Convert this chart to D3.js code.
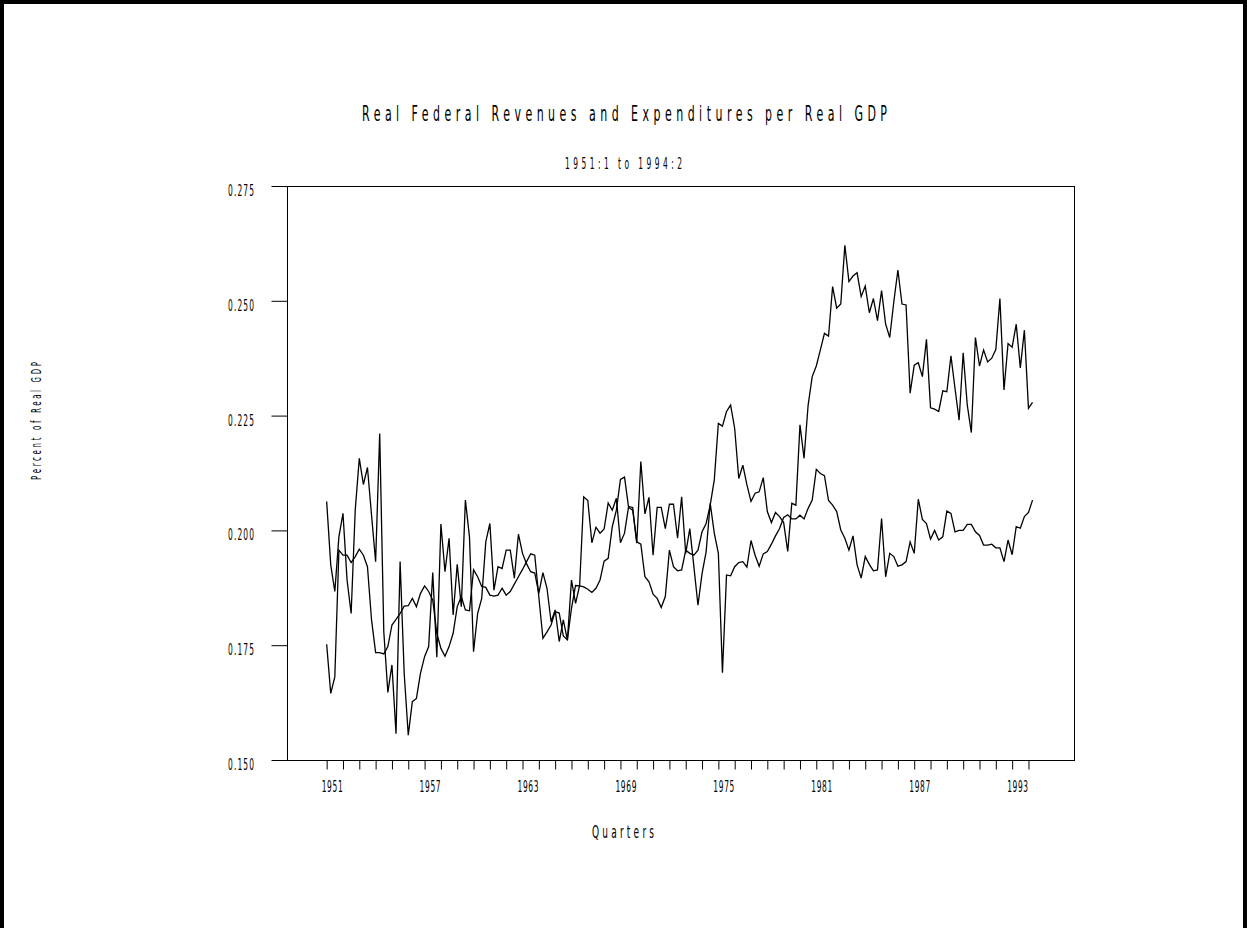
<!DOCTYPE html>
<html>
<head>
<meta charset="utf-8">
<script src="https://cdn.jsdelivr.net/npm/d3@7"></script>
<style>
  html, body { margin: 0; padding: 0; background: #fff; }
  svg text { font-family: "DejaVu Sans", sans-serif; fill: #000; }
</style>
</head>
<body>
<div id="chart"></div>
<script>
// quarterly series, 1951:1 .. 1994:2
const firstYear = 1951;
const revenues = [
  0.2063,0.1925,0.1867,0.1986,0.2037,0.1892,0.1819,0.2044,0.2157,0.2100,0.2137,0.2033,0.1932,0.2211,0.1780,0.1647,0.1707,0.1557,0.1932,0.1689,
  0.1554,0.1627,0.1634,0.1689,0.1725,0.1747,0.1908,0.1724,0.2014,0.1910,0.1983,0.1816,0.1926,0.1834,0.2066,0.1986,0.1736,0.1819,0.1852,0.1975,
  0.2015,0.1870,0.1921,0.1917,0.1957,0.1957,0.1896,0.1992,0.1950,0.1927,0.1910,0.1907,0.1863,0.1908,0.1874,0.1801,0.1827,0.1758,0.1805,0.1761,
  0.1892,0.1841,0.1880,0.2073,0.2065,0.1973,0.2007,0.1994,0.2003,0.2060,0.2044,0.2070,0.1973,0.1994,0.2052,0.2050,0.1972,0.2150,0.2036,0.2072,
  0.1946,0.2050,0.2050,0.2004,0.2057,0.2057,0.1983,0.2073,0.1950,0.2004,0.1921,0.1837,0.1906,0.1953,0.2059,0.1994,0.1950,0.1690,0.1903,0.1901,
  0.1921,0.1930,0.1932,0.1920,0.1978,0.1946,0.1922,0.1949,0.1954,0.1970,0.1988,0.2004,0.2028,0.2034,0.2025,0.2025,0.2033,0.2025,0.2048,0.2066,
  0.2133,0.2124,0.2119,0.2065,0.2055,0.2041,0.2001,0.1983,0.1957,0.1988,0.1925,0.1896,0.1943,0.1926,0.1912,0.1914,0.2026,0.1899,0.1950,0.1943,
  0.1922,0.1925,0.1932,0.1975,0.1950,0.2068,0.2024,0.2015,0.1981,0.2000,0.1979,0.1986,0.2042,0.2037,0.1997,0.2000,0.2000,0.2013,0.2013,0.1997,
  0.1989,0.1968,0.1968,0.1970,0.1962,0.1962,0.1932,0.1979,0.1947,0.2008,0.2005,0.2030,0.2039,0.2066
];
const expenditures = [
  0.1752,0.1645,0.1681,0.1957,0.1946,0.1946,0.1930,0.1943,0.1959,0.1946,0.1921,0.1805,0.1734,0.1734,0.1731,0.1747,0.1794,0.1806,0.1819,0.1835,
  0.1836,0.1852,0.1834,0.1863,0.1879,0.1867,0.1848,0.1776,0.1743,0.1726,0.1747,0.1776,0.1834,0.1856,0.1827,0.1825,0.1914,0.1899,0.1878,0.1876,
  0.1859,0.1857,0.1859,0.1874,0.1859,0.1867,0.1883,0.1899,0.1915,0.1932,0.1949,0.1946,0.1855,0.1765,0.1779,0.1794,0.1823,0.1820,0.1770,0.1762,
  0.1830,0.1880,0.1879,0.1877,0.1872,0.1865,0.1874,0.1892,0.1933,0.1939,0.2008,0.2044,0.2111,0.2116,0.2050,0.2044,0.1975,0.1970,0.1899,0.1888,
  0.1861,0.1852,0.1832,0.1856,0.1957,0.1921,0.1912,0.1914,0.1957,0.1950,0.1946,0.1957,0.1997,0.2015,0.2055,0.2110,0.2233,0.2227,0.2259,0.2273,
  0.2222,0.2113,0.2142,0.2099,0.2063,0.2081,0.2084,0.2115,0.2041,0.2017,0.2039,0.2030,0.2017,0.1954,0.2059,0.2055,0.2230,0.2157,0.2273,0.2335,
  0.2358,0.2393,0.2429,0.2423,0.2531,0.2484,0.2493,0.2621,0.2542,0.2554,0.2561,0.2509,0.2532,0.2474,0.2505,0.2457,0.2522,0.2449,0.2420,0.2498,
  0.2567,0.2493,0.2491,0.2299,0.2360,0.2365,0.2335,0.2416,0.2267,0.2264,0.2259,0.2304,0.2302,0.2380,0.2309,0.2240,0.2387,0.2273,0.2213,0.2420,
  0.2358,0.2393,0.2367,0.2375,0.2394,0.2505,0.2306,0.2407,0.2399,0.2449,0.2354,0.2436,0.2266,0.2279
];
const yTicks = [0.150, 0.175, 0.200, 0.225, 0.250, 0.275];
const yearTicks = d3.range(1951, 1995);
const yearLabels = [1951, 1957, 1963, 1969, 1975, 1981, 1987, 1993];

const svgWidth = 1247;
const svgHeight = 928;
const plot = {left: 287, right: 1074, top: 186, bottom: 760};
const squeeze = 0.5;   // narrow plotter-style glyphs

const svg = d3.select('#chart').append('svg')
    .attr('width', svgWidth)
    .attr('height', svgHeight);

// text with narrow glyphs spread out to a given width, centred on cx, baseline by
function plotText(parent, cx, by, str, size, width, rot) {
    const g = parent.append('g')
        .attr('transform', `translate(${cx},${by})` + (rot ? ` rotate(${rot})` : '') + ` scale(${squeeze},1)`);
    g.append('text')
        .attr('text-anchor', 'middle')
        .attr('font-size', size)
        .attr('textLength', width / squeeze)
        .attr('lengthAdjust', 'spacing')
        .text(str);
    return g;
}

// page border
svg.append('path')
    .attr('d', `M2,${svgHeight} L2,2 L${svgWidth - 2},2 L${svgWidth - 2},${svgHeight}`)
    .attr('fill', 'none')
    .attr('stroke', '#000')
    .attr('stroke-width', 4);

const x = d3.scaleLinear().domain([1948.57, 1996.79]).range([plot.left, plot.right]);
const y = d3.scaleLinear().domain([0.150, 0.275]).range([plot.bottom, plot.top]);

// frame
svg.append('rect')
    .attr('x', plot.left + 0.5)
    .attr('y', plot.top + 0.5)
    .attr('width', plot.right - plot.left)
    .attr('height', plot.bottom - plot.top)
    .attr('fill', 'none')
    .attr('stroke', '#000')
    .attr('stroke-width', 1);

// y axis
const gLeft = svg.append('g').attr('transform', `translate(${plot.left + 0.5},0)`);
gLeft.call(d3.axisLeft(y).tickValues(yTicks).tickSize(16).tickFormat(''));
gLeft.select('.domain').remove();
gLeft.selectAll('.tick line').attr('stroke', '#000');
yTicks.forEach(d => plotText(svg, 241, y(d) + 10, d3.format('.3f')(d), 15, 26));

// x axis
const gBottom = svg.append('g').attr('transform', `translate(0,${plot.bottom + 0.5})`);
gBottom.call(d3.axisBottom(x).tickValues(yearTicks).tickSize(9).tickFormat(''));
gBottom.select('.domain').remove();
gBottom.selectAll('.tick line').attr('stroke', '#000');
yearLabels.forEach(d => plotText(svg, x(d) + 5.5, plot.bottom + 32, String(d), 15, 21));

// lines
const line = d3.line()
    .x((d, i) => x(firstYear + i / 4))
    .y(d => y(d));

[revenues, expenditures].forEach(s => {
    svg.append('path')
        .datum(s)
        .attr('d', line)
        .attr('fill', 'none')
        .attr('stroke', '#000')
        .attr('stroke-width', 1.3);
});

// titles
plotText(svg, 624.5, 121, 'Real Federal Revenues and Expenditures per Real GDP', 22, 525);
plotText(svg, 623.5, 169, '1951:1 to 1994:2', 15, 117);
plotText(svg, 623, 838, 'Quarters', 18, 62);
plotText(svg, 41, 421, 'Percent of Real GDP', 14, 118, -90);
</script>
</body>
</html>
